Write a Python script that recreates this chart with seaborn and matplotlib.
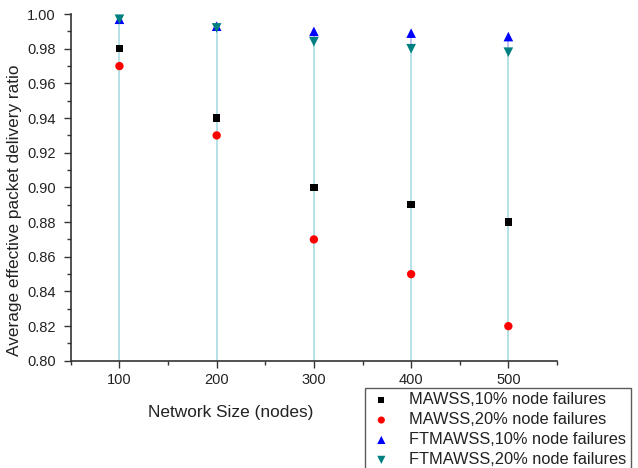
import matplotlib
matplotlib.use("Agg")
import matplotlib.pyplot as plt
from matplotlib.ticker import MultipleLocator, FormatStrFormatter
import seaborn as sns
import pandas as pd

sizes = [100, 200, 300, 400, 500]
mawss_10 = [0.98, 0.94, 0.90, 0.89, 0.88]
mawss_20 = [0.97, 0.93, 0.87, 0.85, 0.82]
ftmawss_10 = [0.997, 0.993, 0.990, 0.989, 0.987]
ftmawss_20 = [0.997, 0.992, 0.984, 0.980, 0.978]
series_names = ["MAWSS,10% node failures", "MAWSS,20% node failures",
                "FTMAWSS,10% node failures", "FTMAWSS,20% node failures"]

sns.set_style("ticks")
plt.rcParams['font.family'] = ['Liberation Sans', 'DejaVu Sans']

colors = ["black", "#ff0000", "#0000ff", "#008080"]
marker_list = ["s", "o", "^", "v"]
marker_sizes = [28, 36, 48, 48]

fig = plt.figure(figsize=(6.38, 4.68), dpi=100)
ax = fig.add_axes([0.111, 0.229, 0.762, 0.741])

# drop lines
ax.vlines(sizes, 0.80, ftmawss_20, colors="#a8dde3", linewidth=1.2, zorder=1)
ax.vlines(sizes, ftmawss_20, ftmawss_10, colors="#b8b8f0", linewidth=1.2, zorder=1)

for name, vals, c, m, s in zip(series_names, [mawss_10, mawss_20, ftmawss_10, ftmawss_20],
                               colors, marker_list, marker_sizes):
    d = pd.DataFrame({"size": sizes, "ratio": vals})
    sns.scatterplot(data=d, x="size", y="ratio", color=c, marker=m, s=s,
                    edgecolor="none", linewidth=0, ax=ax, zorder=3, label=name)

ax.set_xlim(50, 550)
ax.set_ylim(0.80, 1.00)
ax.xaxis.set_major_locator(MultipleLocator(100))
ax.xaxis.set_minor_locator(MultipleLocator(50))
ax.yaxis.set_major_locator(MultipleLocator(0.02))
ax.yaxis.set_minor_locator(MultipleLocator(0.01))
ax.yaxis.set_major_formatter(FormatStrFormatter("%.2f"))
ax.tick_params(axis="both", which="major", length=5, width=1, labelsize=10.5,
               color="#333333", labelcolor="#222222")
ax.tick_params(axis="y", which="major", pad=6)
ax.tick_params(axis="both", which="minor", length=3, width=1, color="#333333")
for sp in ["top", "right"]:
    ax.spines[sp].set_visible(False)
for sp in ["left", "bottom"]:
    ax.spines[sp].set_linewidth(1.2)
    ax.spines[sp].set_color("#333333")

ax.set_xlabel("Network Size (nodes)", fontsize=12.4, color="#222222")
ax.set_ylabel("Average effective packet delivery ratio", fontsize=12.4, color="#222222")
ax.xaxis.set_label_coords(0.329, -0.126)
ax.yaxis.set_label_coords(-0.101, 0.435)

handles, labels = ax.get_legend_handles_labels()
ax.get_legend().remove()
leg = fig.legend(handles, labels, loc="upper left", bbox_to_anchor=(0.572, 0.172),
                 borderaxespad=0, frameon=True, fancybox=False, fontsize=11.8,
                 handletextpad=1.0, handlelength=1.4, borderpad=0.3,
                 labelspacing=0.3, markerscale=0.85, labelcolor="#222222")
leg.get_frame().set_edgecolor("#333333")
leg.get_frame().set_linewidth(1.0)

fig.savefig("out.png", dpi=100)
